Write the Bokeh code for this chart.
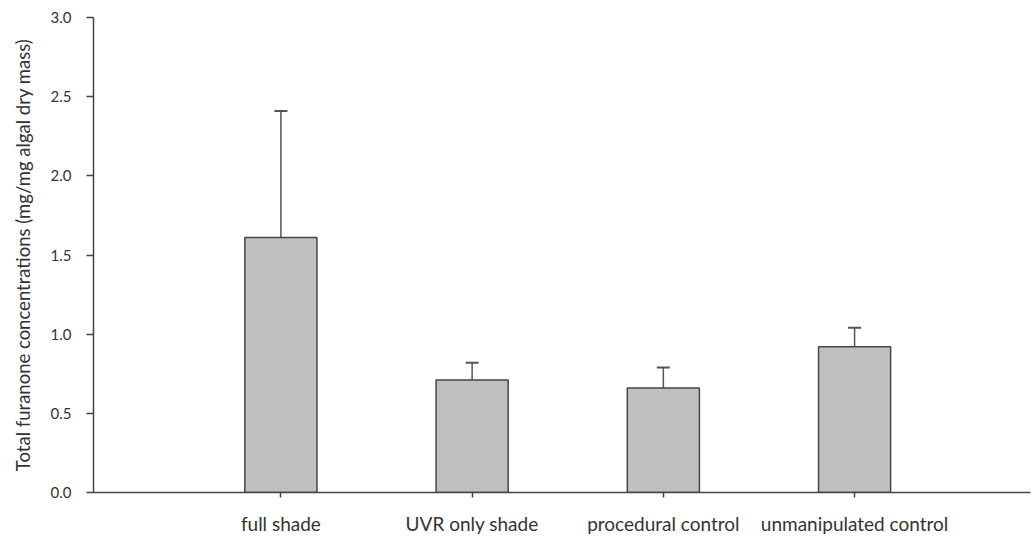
from bokeh.plotting import figure
from bokeh.models import (ColumnDataSource, FixedTicker, Range1d, Whisker, TeeHead,
                          PrintfTickFormatter)
from bokeh.embed import file_html
from bokeh.resources import INLINE

# Treatment groups and their furanone concentrations (mean and upper error)
treatments = ["full shade", "UVR only shade", "procedural control", "unmanipulated control"]
positions = [1, 2, 3, 4]
means = [1.61, 0.71, 0.66, 0.92]
upper_err = [0.80, 0.11, 0.13, 0.12]
y_ticks = [0.0, 0.5, 1.0, 1.5, 2.0, 2.5, 3.0]

tops = [m + e for m, e in zip(means, upper_err)]
src = ColumnDataSource(dict(x=positions, mean=means, top=tops))

FONT = "Lato"
TXT = "#333333"
AXIS = "#444444"

p = figure(width=1034, height=541, output_backend="svg", toolbar_location=None,
           x_range=Range1d(0.02, 4.92), y_range=Range1d(0, 3.0),
           min_border_left=93, min_border_right=4, min_border_top=17, min_border_bottom=49)
p.outline_line_color = None
p.xgrid.visible = False
p.ygrid.visible = False
p.background_fill_color = "white"
p.border_fill_color = "white"

# Upper error bars only (drawn beneath the bars)
p.add_layout(Whisker(source=src, base="x", lower="mean", upper="top",
                     line_color="#555555", line_width=1.5, level="underlay",
                     lower_head=None,
                     upper_head=TeeHead(size=13, line_color="#555555", line_width=2)))

# Bars
p.vbar(x="x", top="mean", bottom=0, width=0.377, source=src,
       fill_color="#c0c0c0", line_color="#454545", line_width=1.5)

# Y axis
ya = p.yaxis[0]
ya.ticker = FixedTicker(ticks=y_ticks)
ya.formatter = PrintfTickFormatter(format="%.1f")
ya.axis_label = "Total furanone concentrations (mg/mg algal dry mass)"
ya.axis_label_text_font = FONT
ya.axis_label_text_font_style = "normal"
ya.axis_label_text_font_size = "18.5px"
ya.axis_label_text_color = TXT
ya.axis_label_standoff = 14
ya.major_label_text_font = FONT
ya.major_label_text_font_size = "15px"
ya.major_label_text_color = TXT
ya.major_label_standoff = 15
ya.major_tick_out = 7
ya.major_tick_in = 0
ya.minor_tick_out = 0
ya.minor_tick_in = 0
ya.axis_line_color = AXIS
ya.axis_line_width = 1.5
ya.major_tick_line_color = AXIS
ya.major_tick_line_width = 1.5

# X axis with one tick per treatment
xa = p.xaxis[0]
xa.ticker = FixedTicker(ticks=positions)
xa.major_label_overrides = {pos: name for pos, name in zip(positions, treatments)}
xa.major_label_text_font = FONT
xa.major_label_text_font_size = "19px"
xa.major_label_text_color = TXT
xa.major_label_standoff = 14
xa.major_tick_out = 5
xa.major_tick_in = 0
xa.minor_tick_out = 0
xa.minor_tick_in = 0
xa.axis_line_color = AXIS
xa.axis_line_width = 1.5
xa.major_tick_line_color = AXIS
xa.major_tick_line_width = 1.5

open("out.html", "w").write(file_html(p, INLINE))
